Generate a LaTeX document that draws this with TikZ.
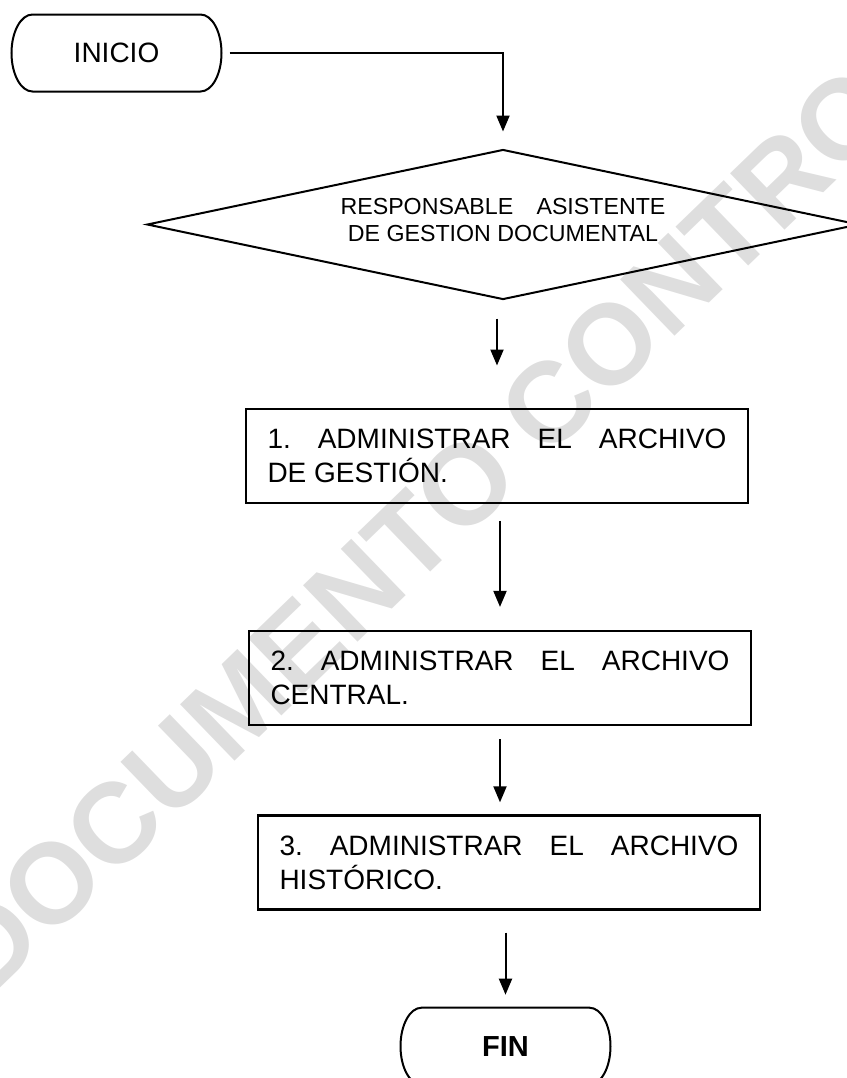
\documentclass[tikz,border=0pt]{standalone}
\usepackage{fontspec}
\setmainfont{Liberation Sans}
\usetikzlibrary{arrows.meta,positioning,shapes.geometric}
\hbadness=10000
\frenchspacing

\begin{document}
\begin{tikzpicture}[node distance=1cm,>={Triangle[length=8pt,width=6.5pt]},line width=1pt,
caja/.style={draw,line width=1.2pt,minimum width=251pt,minimum height=47pt,text width=229.5pt,align=justify,inner sep=0pt,font=\fontsize{14}{17}\selectfont},
term/.style={minimum width=105pt,minimum height=38.5pt,inner sep=0pt,outer sep=0pt,font=\fontsize{14}{17}\selectfont}]

\useasboundingbox (0,0) rectangle (423.5pt,-539pt);
\clip (0,0) rectangle (423.5pt,-539pt);

\node(marca)[rotate=44,text=black!13,font=\bfseries\fontsize{57}{57}\selectfont] at (267pt,-209pt){DOCUMENTO CONTROLADO};

\node(inicio)[term] at (58.25pt,-26.5pt){INICIO};

\node(rombo)[diamond,draw,aspect=4.75,minimum width=356pt,minimum height=75pt,inner sep=0pt,text depth=5pt,below=28.5pt of inicio,xshift=193.25pt,align=center,font=\fontsize{11.6}{13.5}\selectfont]{RESPONSABLE\hspace{1em}ASISTENTE\\DE GESTION DOCUMENTAL};

\node(a1)[caja,below=53.5pt of rombo,xshift=-3pt]{1. ADMINISTRAR EL ARCHIVO\linebreak DE GESTIÓN.};

\node(a2)[caja,below=63pt of a1,xshift=1.5pt]{2. ADMINISTRAR EL ARCHIVO\linebreak CENTRAL.};

\node(a3)[caja,below=44pt of a2,xshift=4.5pt]{3. ADMINISTRAR EL ARCHIVO\linebreak HISTÓRICO.};

\node(fin)[term,below=48.5pt of a3,xshift=-1.75pt,font=\bfseries\fontsize{14.5}{17}\selectfont]{FIN};

\foreach \t in {inicio,fin}
  \draw ([xshift=10.5pt]\t.north west) -- ([xshift=-10.5pt]\t.north east) arc[start angle=90,end angle=-90,x radius=10.5pt,y radius=19.25pt] -- ([xshift=10.5pt]\t.south west) arc[start angle=270,end angle=90,x radius=10.5pt,y radius=19.25pt] -- cycle;

\draw [->,shorten <=4pt,shorten >=8.5pt] (inicio.east) -| (rombo.north);
\draw [->,shorten <=9pt,shorten >=21pt] (a1.north |- rombo.south) -- (a1.north);
\draw [->,shorten <=8.5pt,shorten >=11.5pt] (a2.north |- a1.south) -- (a2.north);
\draw [->,shorten <=6.5pt,shorten >=6pt] (a2.south) -- (a2.south |- a3.north);
\draw [->,shorten <=11pt,shorten >=6.5pt] (fin.north |- a3.south) -- (fin.north);

\end{tikzpicture}
\end{document}
